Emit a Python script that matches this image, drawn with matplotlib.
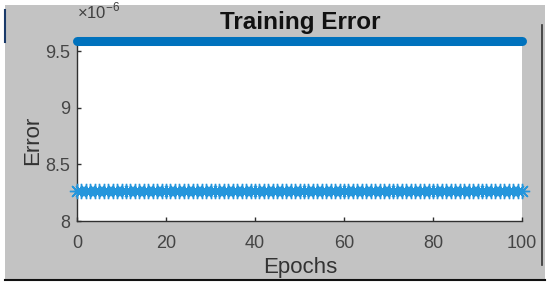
import numpy as np
import matplotlib
matplotlib.use("Agg")
import matplotlib.pyplot as plt
from matplotlib.patches import Rectangle
from matplotlib.lines import Line2D
from matplotlib.ticker import FuncFormatter

# ---- data ----
epochs = np.arange(0, 101)
upper_value = 9.59e-6
lower_value = 8.265e-6
upper_series = [upper_value] * len(epochs)
lower_series = [lower_value] * len(epochs)
x_ticks = [0, 20, 40, 60, 80, 100]
y_ticks = [8.0e-6, 8.5e-6, 9.0e-6, 9.5e-6]
title_text = "Training Error"
x_label = "Epochs"
y_label = "Error"

W, H = 550, 285
plt.rcParams['font.family'] = ['Liberation Sans', 'DejaVu Sans']
fig = plt.figure(figsize=(W / 100, H / 100), dpi=100)
fig.patch.set_facecolor("white")

def fx(px):
    return px / W

def fy(py):
    return 1 - py / H

# grey figure panel
fig.patches.append(Rectangle((fx(5), fy(280)), fx(540), 275 / H, transform=fig.transFigure,
                             facecolor="#c3c3c3", edgecolor="none", zorder=-5))
fig.lines.append(Line2D([fx(5), fx(545)], [fy(280), fy(280)], transform=fig.transFigure,
                        color="#111111", lw=1.5, zorder=-4))
fig.lines.append(Line2D([fx(542), fx(542)], [fy(25), fy(265)], transform=fig.transFigure,
                        color="#333333", lw=1.2, zorder=-4))
fig.lines.append(Line2D([fx(4.5), fx(4.5)], [fy(10), fy(42)], transform=fig.transFigure,
                        color="#1a3a6a", lw=1.5, zorder=-4))

left, right, top, bottom = 77, 522, 40, 221
ax = fig.add_axes([fx(left), fy(bottom), fx(right - left), (bottom - top) / H])
ax.set_zorder(2)
ax.set_facecolor("white")

ax.plot(epochs, upper_series, color="#0072BD", lw=6.5, solid_capstyle="round", clip_on=False, zorder=3)
ax.plot(epochs, lower_series, color="#0072BD", lw=1.5, marker=(8, 2, 0), markersize=11,
        markeredgewidth=1.0, markeredgecolor="#2496dc", clip_on=False, zorder=3)

ax.set_xlim(0, 100)
ax.set_ylim(8.0e-6, 9.6e-6)
ax.set_xticks(x_ticks)
ax.set_yticks(y_ticks)
ax.yaxis.set_major_formatter(FuncFormatter(lambda v, p: f"{v / 1e-6:g}"))
for s in ["top", "right"]:
    ax.spines[s].set_visible(False)
for s in ["left", "bottom"]:
    ax.spines[s].set_color("#303030")
    ax.spines[s].set_linewidth(1.0)
ax.tick_params(direction="in", length=3, width=1, colors="#303030", labelcolor="#454545",
               labelsize=13)
ax.tick_params(axis="x", pad=10)
ax.tick_params(axis="y", pad=5)

fig.text(fx(300), fy(22), title_text, ha="center", va="center", fontsize=17.5,
         fontweight="bold", color="#111111")
fig.text(fx(77), fy(11), "\u00d710$^{\\mathregular{-6}}$", ha="left", va="center", fontsize=12, color="#404040")
fig.text(fx(300), fy(268), x_label, ha="center", va="center", fontsize=16, color="#333333")
fig.text(fx(33), fy(140), y_label, ha="center", va="center", rotation=90, fontsize=16, color="#333333")

fig.savefig("out.png", dpi=100, facecolor=fig.get_facecolor())
